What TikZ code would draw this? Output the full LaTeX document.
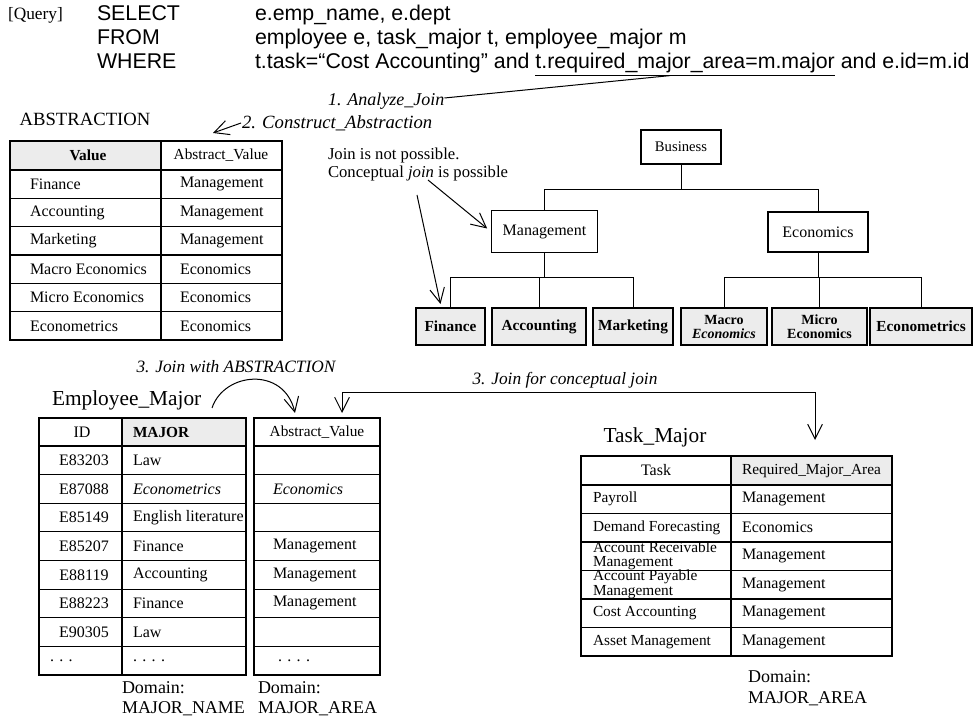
\documentclass[tikz,border=0pt]{standalone}
\usepackage{fontspec}
\setmainfont{Liberation Serif}
\newfontfamily\qfont{Liberation Sans}
\usetikzlibrary{arrows.meta,calc}
\newcommand\myfs[2]{\fontsize{#1}{#2}\selectfont}
\begin{document}
\begin{tikzpicture}[x=0.75pt,y=-0.75pt,
  every node/.style={inner sep=0pt, outer sep=0pt},
  tab/.style={line width=0.8pt},
  rule/.style={line width=0.75pt},
  vee/.style={-{Straight Barb[length=11pt,width=11pt]}},
  veeboth/.style={{Straight Barb[length=11pt,width=11pt]}-{Straight Barb[length=11pt,width=11pt]}},
  tabtxt/.style={anchor=west, font=\myfs{12}{14}},
  tabc/.style={font=\myfs{12}{14}},
  qtxt/.style={anchor=base west, font=\qfont\myfs{16}{19}},
  hnode/.style={draw, line width=0.8pt, font=\myfs{12}{14}},
  leaf/.style={draw, line width=1pt, fill=gray!15, minimum height=27.75pt, font=\bfseries\myfs{11.5}{11}, align=center},
  steplab/.style={font=\itshape\myfs{13}{15}},
  domlab/.style={anchor=west, font=\myfs{13.5}{16}}
]
\useasboundingbox (0,0) rectangle (978,723);

% ---------------- Query ----------------
\node[anchor=base west, font=\myfs{13}{15}] (qlab) at (8,20) {[Query]};
\node[qtxt] (qsel) at (97,20.5) {SELECT};
\node[qtxt] (qfrom) at (97,44.5) {FROM};
\node[qtxt] (qwhere) at (97,68.5) {WHERE};
\node[qtxt] (q1) at (255,20.5) {e.emp\_name, e.dept};
\node[qtxt] (q2) at (255,44.5) {employee e, task\_major t, employee\_major m};
\node[qtxt] (q3a) at (255,68.5) {t.task=“Cost Accounting” and\kern0.278em};
\node[qtxt] (q3b) at (q3a.base east) {\underline{t.required\_major\_area=m.major}};
\node[qtxt] (q3c) at (q3b.base east) {\kern0.278em and e.id=m.id};

% step labels
\node[steplab, anchor=west, font=\itshape\myfs{13.5}{15}] (anj) at (328,101) {1. Analyze\_Join};
\draw[rule] ($(anj.east)+(0,-3)$) -- ($(q3b.south west)!0.45!(q3b.south east)$);
\node[steplab, anchor=west, font=\itshape\myfs{14}{16}] (cabs) at (242,123) {2. Construct\_Abstraction};
\coordinate (cabsTip) at (213,133);
\draw[rule, vee] ($(cabs.west)+(-1,0)$) -- (cabsTip);

% ---------------- ABSTRACTION table ----------------
\node[font=\myfs{14}{16}] (abst) at (85,119) {ABSTRACTION};
\fill[gray!15] (10,141) rectangle (161,170);
\draw[tab] (10,141) rectangle (282,340);
\draw[tab] (161,141) -- (161,340);
\foreach \y in {170,198.3,226.7,255,283.3,311.7} \draw[tab] (10,\y) -- (282,\y);
\node[tabc, font=\bfseries\myfs{11.5}{14}] (avh1) at (88,155.5) {Value};
\node[tabc, font=\myfs{11.5}{14}] (avh2) at (221,155.5) {Abstract\_Value};
\foreach \v/\w/\y [count=\i] in {Finance/Management/184.2, Accounting/Management/212.5, Marketing/Management/240.8, Macro Economics/Economics/269.2, Micro Economics/Economics/297.5, Econometrics/Economics/325.8} {
  \node[tabtxt] (ava\i) at (30,\y) {\v};
  \node[tabtxt] (avb\i) at (180,\y) {\w};
}

% ---------------- hierarchy ----------------
\node[hnode, minimum width=60pt, minimum height=25.5pt, font=\myfs{11}{13}] (bus) at (681,147) {Business};
\node[hnode, minimum width=80pt, minimum height=31pt] (mgmt) at (544.5,231.5) {Management};
\node[hnode, minimum width=75pt, minimum height=30pt] (econ) at (818,232) {Economics};
\node[leaf, minimum width=51.75pt] (fin) at (450.5,326.5) {Finance};
\node[leaf, minimum width=70.5pt] (acc) at (539,326.5) {Accounting};
\node[leaf, minimum width=60pt] (mkt) at (633,326.5) {Marketing};
\node[leaf, minimum width=64.5pt, font=\bfseries\myfs{10.5}{10.5}] (mac) at (724,326.5) {Macro\\\textit{Economics}};
\node[leaf, minimum width=71.25pt, font=\bfseries\myfs{10.5}{10.5}] (mic) at (819.5,326.5) {Micro\\Economics};
\node[leaf, minimum width=76.5pt] (ecm) at (921,326.5) {Econometrics};
\coordinate (ya) at (0,190);
\coordinate (yb) at (0,278);
\draw[rule] (bus.south) -- (bus.south |- ya);
\draw[rule] (mgmt.north) -- (mgmt.north |- ya) -- (econ.north |- ya) -- (econ.north);
\draw[rule] (mgmt.south) -- (mgmt.south |- yb);
\draw[rule] (fin.north) -- (fin.north |- yb) -- (mkt.north |- yb) -- (mkt.north);
\draw[rule] (acc.north) -- (acc.north |- yb);
\draw[rule] (econ.south) -- (econ.south |- yb);
\draw[rule] (mac.north) -- (mac.north |- yb) -- (ecm.north |- yb) -- (ecm.north);
\draw[rule] (mic.north) -- (mic.north |- yb);

% join remarks
\node[anchor=west, font=\myfs{12.5}{15}] (jnp1) at (328,155) {Join is not possible.};
\node[anchor=west, font=\myfs{12.5}{15}] (jnp2) at (328,173) {Conceptual \textit{join} is possible};
\coordinate (sA) at (417,195);
\coordinate (sB) at (428,180);
\draw[rule, vee] (sA) -- ($(fin.north)+(-10,-4)$);
\draw[rule, vee] (sB) -- ($(mgmt.west)+(-4,-3)$);

% ---------------- Employee_Major ----------------
\node[steplab] (jwa) at (236,367) {3. Join with ABSTRACTION};
\node[font=\myfs{16}{18}, anchor=west] (empt) at (52,400) {Employee\_Major};
\fill[gray!15] (122,418) rectangle (246,446);
\draw[tab] (39,418) rectangle (246,675);
\draw[tab] (122,418) -- (122,675);
\draw[tab] (254,418) rectangle (380,675);
\foreach \y in {446,474.6,503.3,531.9,560.5,589.1,617.8,646.4} {
  \draw[tab] (39,\y) -- (246,\y);
  \draw[tab] (254,\y) -- (380,\y);
}
\node[tabc] (eh1) at (82,432) {ID};
\node[tabtxt, font=\bfseries\myfs{11.5}{14}] (eh2) at (133,432) {MAJOR};
\node[tabc, font=\myfs{11.5}{14}] (eh3) at (317,432) {Abstract\_Value};
\foreach \a/\b/\c/\y [count=\i] in {E83203/Law//460.3, E87088/\textit{Econometrics}/\textit{Economics}/488.9, E85149/English literature//517.6, E85207/Finance/Management/546.2, E88119/Accounting/Management/574.8, E88223/Finance/Management/603.4, E90305/Law//632.1} {
  \node[tabc] (ea\i) at (84,\y) {\a};
  \node[tabtxt] (eb\i) at (133,\y) {\b};
  \node[tabtxt] (ec\i) at (273,\y) {\c};
}
\node[tabtxt] (ea8) at (50,660.7) {. . .};
\node[tabtxt] (eb8) at (133,660.7) {. . . .};
\node[tabtxt] (ec8) at (278,660.7) {. . . .};
\node[domlab] (ed1) at (122,688) {Domain:};
\node[domlab] (ed2) at (122,709) {MAJOR\_NAME};
\node[domlab] (ed3) at (258,688) {Domain:};
\node[domlab] (ed4) at (258,709) {MAJOR\_AREA};

% arc: join with ABSTRACTION
\coordinate (arcS) at (212,408);
\coordinate (arcE) at (295,413);
\draw[rule, vee] (arcS) .. controls (224,372) and (284,366) .. (arcE);

% conceptual join connector
\node[steplab] (jfc) at (565,380) {3. Join for conceptual join};
\coordinate (cjL) at (342,413);
\coordinate (cjR) at (815,440);
\coordinate (cjT) at (0,393);
\draw[rule, veeboth] (cjL) -- (cjL |- cjT) -- (cjR |- cjT) -- (cjR);

% ---------------- Task_Major ----------------
\node[font=\myfs{16}{18}] (taskt) at (655,437) {Task\_Major};
\fill[gray!15] (731,456) rectangle (892,485);
\draw[tab] (581,456) rectangle (892,656);
\draw[tab] (731,456) -- (731,656);
\foreach \y in {485,513.5,542,570.5,599,627.5} \draw[tab] (581,\y) -- (892,\y);
\node[tabc] (th1) at (656,470.5) {Task};
\node[tabc, font=\myfs{11.5}{14}] (th2) at (811.5,470.5) {Required\_Major\_Area};
\foreach \a/\b/\y [count=\i] in {Payroll/Management/499.25, Demand Forecasting/Economics/527.75, Account Receivable\\Management/Management/556, Account Payable\\Management/Management/584.5, Cost Accounting/Management/613.25, Asset Management/Management/641.75} {
  \node[tabtxt, align=left, font=\myfs{11.5}{10}] (ta\i) at (593,\y) {\a};
  \node[tabtxt] (tb\i) at (742,\y) {\b};
}
\node[domlab] (td1) at (748,677) {Domain:};
\node[domlab] (td2) at (748,699) {MAJOR\_AREA};
\end{tikzpicture}
\end{document}
